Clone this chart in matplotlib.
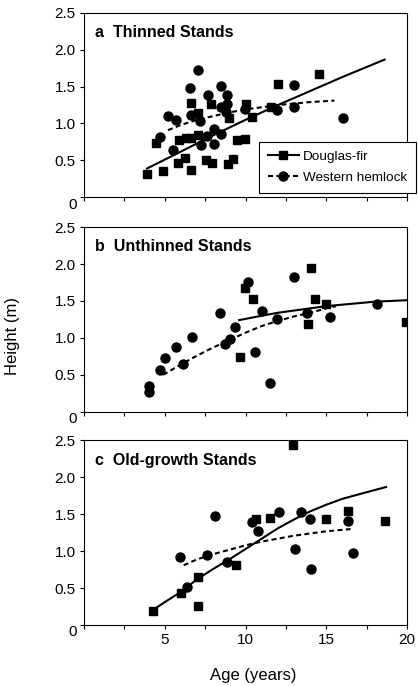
import matplotlib
matplotlib.use('Agg')
import matplotlib.pyplot as plt

plt.rcParams['font.family'] = ['Liberation Sans', 'DejaVu Sans']

# ---- a: Thinned stands ----
a_df_x = [3.91, 4.44, 4.90, 5.88, 5.84, 6.23, 6.30, 6.65, 6.65, 6.65, 7.06, 7.06, 7.57,
          7.88, 7.94, 8.91, 8.97, 9.22, 9.47, 9.96, 10.04, 10.41, 11.58, 12.0, 14.53]
a_df_y = [0.32, 0.74, 0.36, 0.77, 0.46, 0.53, 0.80, 0.37, 0.80, 1.28, 1.14, 0.84, 0.50,
          1.27, 0.46, 0.45, 1.07, 0.52, 0.77, 0.79, 1.27, 1.09, 1.23, 1.53, 1.67]
a_wh_x = [4.73, 5.20, 5.51, 5.72, 6.54, 6.60, 7.06, 7.16, 7.27, 7.61, 7.67, 8.02, 8.02,
          8.46, 8.46, 8.50, 8.87, 8.87, 8.80, 9.94, 11.95, 12.98, 13.02, 16.05]
a_wh_y = [0.82, 1.10, 0.64, 1.05, 1.48, 1.12, 1.72, 1.03, 0.71, 0.83, 1.39, 0.92, 0.72,
          0.855, 1.51, 1.22, 1.39, 1.26, 1.16, 1.19, 1.18, 1.22, 1.52, 1.07]
a_df_fit_x = [3.9, 6, 8, 10, 12, 14, 16, 18.6]
a_df_fit_y = [0.39, 0.62, 0.84, 1.05, 1.25, 1.44, 1.63, 1.865]
a_wh_fit_x = [5.2, 6, 7, 8, 9, 10, 11, 12, 13, 14, 15.5]
a_wh_fit_y = [0.91, 0.98, 1.05, 1.10, 1.15, 1.19, 1.22, 1.25, 1.27, 1.29, 1.31]

# ---- b: Unthinned stands ----
b_df_x = [9.67, 9.98, 10.45, 13.87, 14.05, 14.32, 14.98, 19.95]
b_df_y = [0.74, 1.68, 1.52, 1.19, 1.95, 1.53, 1.46, 1.21]
b_wh_x = [4.01, 4.01, 4.69, 5.04, 5.68, 6.13, 6.67, 8.42, 8.72, 9.01, 9.34, 10.14, 10.56,
          11.03, 11.52, 11.93, 13.0, 13.79, 15.23, 18.13]
b_wh_y = [0.347, 0.26, 0.56, 0.73, 0.87, 0.64, 1.01, 1.33, 0.91, 0.99, 1.15, 1.76, 0.815,
          1.36, 0.39, 1.25, 1.83, 1.34, 1.28, 1.455]
b_df_fit_x = [9.6, 11, 12, 13, 14, 15, 16, 17, 18, 19, 20]
b_df_fit_y = [1.24, 1.30, 1.34, 1.37, 1.40, 1.43, 1.45, 1.47, 1.49, 1.50, 1.51]
b_wh_fit_x = [4.9, 6, 7, 8, 9, 10, 11, 12, 13, 14, 15, 15.6]
b_wh_fit_y = [0.50, 0.64, 0.76, 0.87, 0.97, 1.07, 1.16, 1.23, 1.29, 1.34, 1.40, 1.43]

# ---- c: Old-growth stands ----
c_df_x = [4.28, 6.01, 7.04, 7.04, 9.38, 10.62, 11.52, 12.96, 14.98, 16.36, 18.62]
c_df_y = [0.195, 0.44, 0.65, 0.26, 0.81, 1.43, 1.45, 2.44, 1.44, 1.55, 1.41]
c_wh_x = [5.95, 6.40, 7.61, 8.09, 8.83, 10.41, 10.76, 12.04, 13.05, 13.46, 14.0, 14.07,
          16.34, 16.63]
c_wh_y = [0.92, 0.52, 0.95, 1.48, 0.85, 1.39, 1.28, 1.53, 1.03, 1.53, 1.43, 0.755,
          1.41, 0.97]
c_df_fit_x = [4.24, 5, 6, 7, 8, 9, 10, 11, 12, 13, 14, 15, 16, 17, 18.7]
c_df_fit_y = [0.20, 0.31, 0.45, 0.62, 0.76, 0.89, 1.03, 1.17, 1.31, 1.43, 1.54, 1.63,
              1.71, 1.77, 1.87]
c_wh_fit_x = [6.17, 7, 8, 9, 10, 11, 12, 13, 14, 15, 16.5]
c_wh_fit_y = [0.81, 0.89, 0.96, 1.02, 1.08, 1.13, 1.17, 1.21, 1.24, 1.27, 1.30]

panel_titles = ['a  Thinned Stands', 'b  Unthinned Stands', 'c  Old-growth Stands']
y_ticks = [0, 0.5, 1.0, 1.5, 2.0, 2.5]
y_ticklabels = ['', '0.5', '1.0', '1.5', '2.0', '2.5']
x_ticks = [0, 5, 10, 15, 20]
x_ticklabels = ['', '5', '10', '15', '20']

panels = [
    (a_df_x, a_df_y, a_wh_x, a_wh_y, a_df_fit_x, a_df_fit_y, a_wh_fit_x, a_wh_fit_y),
    (b_df_x, b_df_y, b_wh_x, b_wh_y, b_df_fit_x, b_df_fit_y, b_wh_fit_x, b_wh_fit_y),
    (c_df_x, c_df_y, c_wh_x, c_wh_y, c_df_fit_x, c_df_fit_y, c_wh_fit_x, c_wh_fit_y),
]

fig = plt.figure(figsize=(4.18, 6.86), dpi=100)
bottoms = [0.7124, 0.3999, 0.0889]

for i, (dfx, dfy, whx, why, dffx, dffy, whfx, whfy) in enumerate(panels):
    ax = fig.add_axes([0.201, bottoms[i], 0.773, 0.269])

    ax.plot(dffx, dffy, color='black', lw=1.5)
    ax.plot(whfx, whfy, color='black', lw=1.5, dashes=(2.4, 1.6))
    ax.plot(dfx, dfy, 's', color='black', ms=5.7)
    ax.plot(whx, why, 'o', color='black', ms=6.5)

    ax.set_xlim(0, 20)
    ax.set_ylim(0, 2.5)
    ax.set_yticks(y_ticks)
    ax.set_yticklabels(y_ticklabels, fontsize=11)
    ax.set_xticks(x_ticks)
    ax.set_xticks([2.5, 7.5, 12.5, 17.5], minor=True)
    if i == 2:
        ax.set_xticklabels(x_ticklabels, fontsize=11)
    else:
        ax.set_xticklabels([])
    ax.tick_params(which='both', direction='out', length=3, width=0.8, pad=3)
    for s in ax.spines.values():
        s.set_linewidth(0.8)

    # the "0" sits down in the corner
    ax.text(-0.034, -0.04, '0', transform=ax.transAxes, fontsize=11,
            ha='center', va='center')
    ax.text(0.035, 0.893, panel_titles[i], transform=ax.transAxes, fontsize=11.5,
            fontweight='bold', ha='left', va='center')

    if i == 0:
        h1, = ax.plot([], [], '-s', color='black', lw=1.5, ms=5.7)
        h2, = ax.plot([], [], 'o', color='black', ls=(0, (2.4, 1.6)), lw=1.5, ms=6.5)
        leg = ax.legend([h1, h2], ['Douglas-fir', 'Western hemlock'],
                        loc='lower right', bbox_to_anchor=(1.027, 0.025),
                        fontsize=9.7, frameon=True, fancybox=False, framealpha=1,
                        edgecolor='black', handlelength=2.3, borderpad=0.65,
                        labelspacing=0.65, handletextpad=0.3, borderaxespad=0)
        leg.get_frame().set_linewidth(0.8)
        leg.set_clip_on(False)

fig.text(0.029, 0.51, 'Height (m)', rotation=90, fontsize=12, ha='center', va='center')
fig.text(0.605, 0.016, 'Age (years)', fontsize=12, ha='center', va='center')

fig.savefig('out.png', dpi=100)
